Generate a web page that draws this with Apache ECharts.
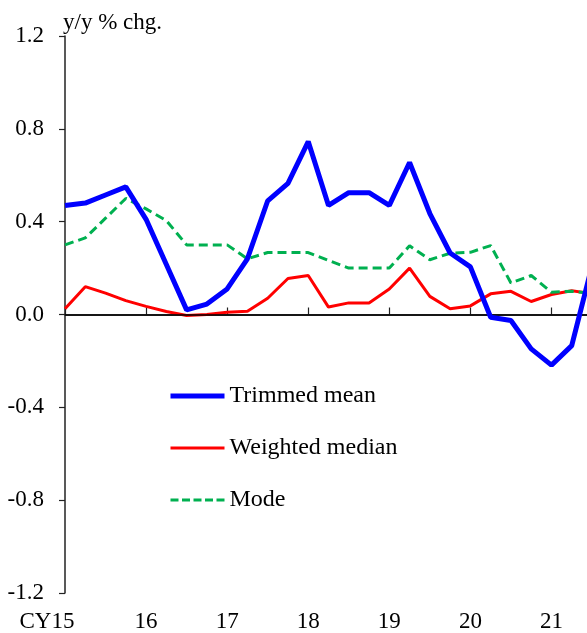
<!DOCTYPE html>
<html>
<head>
<meta charset="utf-8">
<script src="https://cdn.jsdelivr.net/npm/echarts@6/dist/echarts.min.js"></script>
<style>
html,body{margin:0;padding:0;background:#fff;overflow:hidden;}
#chart{width:600px;height:633px;}
</style>
</head>
<body>
<div id="chart"></div>
<script>
const quarters = ['15Q1','15Q2','15Q3','15Q4','16Q1','16Q2','16Q3','16Q4','17Q1','17Q2','17Q3','17Q4','18Q1','18Q2','18Q3','18Q4','19Q1','19Q2','19Q3','19Q4','20Q1','20Q2','20Q3','20Q4','21Q1','21Q2','21Q3'];
const xTickLabels = ['CY15','16','17','18','19','20','21'];
const yTicks = [-1.2,-0.8,-0.4,0.0,0.4,0.8,1.2];

const trimmedMean = [0.47,0.48,0.515,0.55,0.41,0.215,0.02,0.045,0.11,0.24,0.49,0.565,0.745,0.47,0.525,0.525,0.47,0.655,0.435,0.265,0.205,-0.012,-0.026,-0.148,-0.218,-0.134,0.21];
const weightedMedian = [0.025,0.12,0.092,0.06,0.035,0.013,-0.004,0.0,0.01,0.014,0.07,0.155,0.168,0.032,0.05,0.05,0.11,0.2,0.078,0.025,0.037,0.089,0.1,0.056,0.086,0.102,0.09];
const modeVals = [0.3,0.33,0.415,0.5,0.455,0.405,0.3,0.3,0.3,0.24,0.267,0.267,0.267,0.233,0.2,0.2,0.2,0.296,0.236,0.264,0.268,0.297,0.136,0.168,0.096,0.1,0.09];

const FONT = "'Liberation Serif','Times New Roman',serif";
const chart = echarts.init(document.getElementById('chart'), null, {renderer:'canvas'});
chart.setOption({
  animation: false,
  backgroundColor: '#fff',
  grid: {left: 65, right: 8, top: 36, bottom: 40, containLabel: false},
  legend: {
    orient: 'vertical', left: 168, top: 384, padding: 0,
    itemWidth: 54, itemHeight: 14, itemGap: 28,
    selectedMode: false,
    itemStyle: {opacity: 0},
    data: [
      {name: 'Trimmed mean', lineStyle: {width: 5, color: '#0000FF'}},
      {name: 'Weighted median', lineStyle: {width: 3, color: '#FF0000'}},
      {name: 'Mode', lineStyle: {width: 3, color: '#00B050', type: [8, 3.5]}}
    ],
    textStyle: {fontFamily: FONT, fontSize: 24, color: '#000', lineHeight: 24}
  },
  xAxis: {
    type: 'category', data: quarters, boundaryGap: false,
    axisLine: {lineStyle: {color: '#222', width: 1.5}},
    axisTick: {inside: true, length: 7, interval: 3, lineStyle: {color: '#222', width: 1.2}},
    axisLabel: {
      interval: 3, margin: 17, color: '#000', fontFamily: FONT, fontSize: 23,
      formatter: function (v, i) {
        const k = Math.round(i / 4);
        if (k === 0) return '{cy|' + xTickLabels[0] + '}';
        return xTickLabels[k] || '';
      },
      rich: {cy: {fontFamily: FONT, fontSize: 23, color: '#000', padding: [0, 36, 0, 0]}}
    },
    splitLine: {show: false}
  },
  yAxis: {
    type: 'value', min: -1.2, max: 1.2, interval: 0.4,
    name: 'y/y % chg.', nameLocation: 'end', nameGap: 13,
    nameTextStyle: {fontFamily: FONT, fontSize: 23, color: '#000', align: 'left', verticalAlign: 'middle', padding: [0, 0, 0, -2]},
    axisLine: {show: true, onZero: false, lineStyle: {color: '#222', width: 1.5}},
    axisTick: {show: true, inside: false, length: 6, lineStyle: {color: '#222', width: 1.2}},
    axisLabel: {margin: 21, color: '#000', fontFamily: FONT, fontSize: 23,
      formatter: v => v.toFixed(1)},
    splitLine: {show: false}
  },
  series: [
    {name: 'Trimmed mean', type: 'line', data: trimmedMean, symbol: 'none', z: 5,
      lineStyle: {color: '#0000FF', width: 5}, itemStyle: {color: '#0000FF'}},
    {name: 'Weighted median', type: 'line', data: weightedMedian, symbol: 'none', z: 3,
      lineStyle: {color: '#FF0000', width: 3}, itemStyle: {color: '#FF0000'},
      markLine: {silent: true, symbol: 'none', animation: false, label: {show: false},
        lineStyle: {color: '#000', width: 1.5, type: 'solid'}, data: [{yAxis: 0}]}},
    {name: 'Mode', type: 'line', data: modeVals, symbol: 'none', z: 4,
      lineStyle: {color: '#00B050', width: 3, type: [9, 5]}, itemStyle: {color: '#00B050'}}
  ]
});
</script>
</body>
</html>
